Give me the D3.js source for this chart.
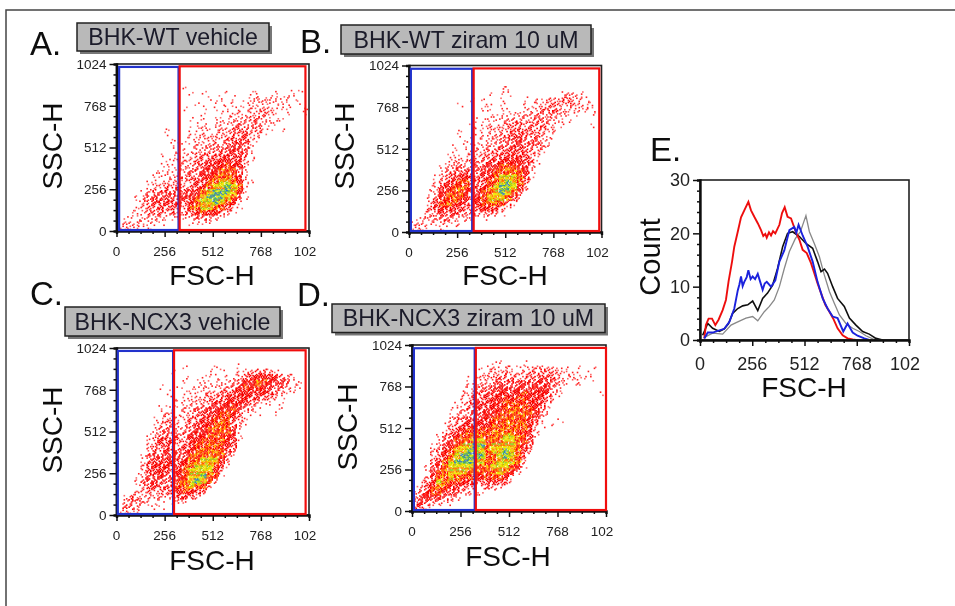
<!DOCTYPE html>
<html>
<head>
<meta charset="utf-8">
<script src="https://cdn.jsdelivr.net/npm/d3@7"></script>
<style>
  html, body { margin: 0; padding: 0; background: #fff; }
  svg { display: block; }
  text { font-family: "Liberation Sans", Arial, sans-serif; }
</style>
</head>
<body>
<svg id="viz" width="955" height="606"></svg>
<script>
/* -----------------------------------------------------------
   DATA — dot plots are kept as density grids read by eye,
   32 x 32 cells over 0-1024, top row first. 0 = empty, 9 = peak
   Single events can't be read off the picture, so dot positions
   inside a cell are a fixed stipple, not measured events.
----------------------------------------------------------- */
const densityA = [
  "00000000000000000000000000000000","00000000000000000000000000000000","00000000000000000000000000000000","00000000000000000000000000000000",
  "00000000000100000000000000000000","00000000000010100010001100100110","00000000000000010101001212112100","00000000000001001101012121211010",
  "00000000000100101011112222111001","00000000000000100111212232101001","00000000000010101112223321110000","00000000000001101212322321100000",
  "00000000100011211223332311010000","00000000100011212223342210000000","00000000010112122234342100000000","00000000011012223234431000000000",
  "00000000010112223344431000000000","00000001011213333444431000000000","00000000112223344554421000000000","00000001112223445565520000000000",
  "00000011112233455766310000000000","00000011213233556776410000000000","00000111222234467887521000000000","00000122333234578898710000000000",
  "00001233433445789998510000000000","00012343434456899987310000000000","00012344444357889875100000000000","00012334343367887641100000000000",
  "00112333232335655321000000000000","01111222111123322100000000000000","02221211000011110000000000000000","12211100000000000000000000000000"
];
const densityB = [
  "00000000000000000000000000000000","00000000000000000000000000000000","00000000000000000000000000000000","00000000000000000000000000000000",
  "00000000000000011000000000000000","00000000000001011000000001221000","00000000001010010001011223322100","00000000100011010001122332322110",
  "00000000000011011002123332212210","00000000000001111122232322110010","00000000000111122322333221100000","00000000001012123332333211000010",
  "00000000100112223343332210000000","00000000101112233443332100000000","00000000010112233443332100000000","00000001011122233443332100000000",
  "00000001011223334443321000000000","00000011112233344544210000000000","00000012223234455554310000000000","00000123323344567654200000000000",
  "00000133343345667765100000000000","00001234554345788874100000000000","00001345664346789873000000000000","00012456764457899852000000000000",
  "00012566753467898630000000000000","00013567653568887410000000000000","00024676543567763100000000000000","00034554433455421000000000000000",
  "00123434323223210000000000000000","01222332121010000000000000000000","12211211100000000000000000000000","12100100000000000000000000000000"
];
const densityC = [
  "00000000000000000000000000000000","00000000000000000000000000000000","00000000000000000000000000000000","00000000000100001000100000000000",
  "00000000010000010100122332100000","00000000000100111011234555432100","00000000000101111122355765443110","00000001001011211223465654332110",
  "00000000100111222334554554321100","00000000010112233354554433210000","00000000011122234455543211010000","00000001111223344556432100010000",
  "00000001211223445665311100100000","00000011221233456664310000000000","00000012321234556763210000000000","00000013322234567764100000000000",
  "00000123332345566664100000000000","00000134443355666754100000000000","00000234432356677654000000000000","00000233433456777643000000000000",
  "00001343443467777731000000000000","00001344544577888520000000000000","00002455544678887410000000000000","00002445435788885200000000000000",
  "00012345335688976100000000000000","00013443346789862000000000000000","00012443346787620000000000000000","00022323335654300000000000000000",
  "01322222224432000000000000000000","02332111012100000000000000000000","03320111000000000000000000000000","12110000000000000000000000000000"
];
const densityD = [
  "00000000000000000000000000000000","00000000000000000000000000000000","00000000000000000000000000000000","00000000000001100010000000000000",
  "00000000000112121112232211010010","00000000001122232223333322110100","00000000011223333233344321211100","00000000011223433444444321020000",
  "00000000112334544544554210000000","00000000223344554565554210000001","00000000123345565665543100000000","00000001234445566665541000000000",
  "00000011234445567766531000000000","00000012233455667776521000000000","00000023344456677665310010000000","00000123455557677775210100000000",
  "00000134566667777664200000000000","00001345677767788764100000000000","00001346778867788764000000000000","00012457889978888753000000000000",
  "00023568899878898742000000000000","00023578999977898730000000000000","00034689998877888720000000000000","00135788887778886510000000000000",
  "00146788877667875200000000000000","00247787665566651000000000000000","01358766554344431000000000000000","12467654321132100000000000000000",
  "13566443221100000000000000000000","24544322000000000000000000000000","34322110000000000000000000000000","33100000000000000000000000000000"
];

// gates in axis units: [x0, x1, y0, y1]
const gatesA = { blue: [14, 330, 6, 1006], red: [336, 1005, 6, 1010] };
const gatesB = { blue: [10, 336, 6, 1004], red: [344, 1012, 6, 1006] };
const gatesC = { blue: [7, 301, 6, 1006], red: [306, 1006, 6, 1010] };
const gatesD = { blue: [10, 331, 6, 1004], red: [337, 1024, 6, 1006] };

const sscTicks = [0, 256, 512, 768, 1024];
const fscTicks = [0, 256, 512, 768, 1024];
const fscLabels = ["0", "256", "512", "768", "102"];
const countTicks = [0, 10, 20, 30];

// histogram traces, [FSC-H, Count]
const histRed = [[21,0.3],[29,2.8],[42,4],[59,4],[75,2.8],[91,3.8],[111,5.6],[127,7.5],[140,11],[157,14.7],[168,17.5],[185,20.3],[201,23],[217,24.3],[237,25.9],[250,24.3],[266,23.1],[283,21.9],[299,20.6],[310,19.5],[320,19.9],[327,19.2],[338,20.2],[348,19.6],[358,20.4],[369,20],[389,21.6],[402,23.8],[415,24.9],[429,23.1],[446,22.8],[457,21.6],[470,20.2],[487,18.8],[503,16.9],[523,16.3],[544,14.4],[560,12.5],[576,10.6],[593,8.8],[614,6.6],[634,5.3],[653,4],[674,2.2],[699,0.9],[723,0.3],[748,0.1],[764,0]];
const histBlue = [[21,0.3],[38,1.4],[62,1.4],[87,1.7],[119,2.1],[144,3.4],[168,5.9],[185,9.3],[193,10.4],[201,11.9],[209,10.1],[217,10.9],[229,11.8],[237,13.1],[248,11.4],[258,11.9],[270,11.4],[283,12.4],[295,10.9],[307,9.4],[317,10.6],[327,10.9],[348,10],[369,11.2],[389,14.7],[413,16.8],[438,20.6],[462,21.2],[472,20.1],[483,21.6],[503,19.6],[527,17.5],[552,14.7],[576,10.9],[601,7.8],[625,5.9],[650,4.4],[674,4.1],[702,1.6],[723,3.1],[748,1.4],[772,0.8],[805,0.3],[829,0]];
const histBlack = [[13,0.9],[38,3.1],[62,2.2],[95,1.6],[119,2.1],[140,3.1],[160,5],[185,5.9],[209,6.4],[234,6.6],[258,7.3],[283,5.5],[307,7.8],[331,8.8],[356,10.3],[380,13.4],[405,17.5],[429,20],[454,20.3],[487,19.4],[519,18.1],[552,17.2],[576,14.7],[593,12.8],[610,13.3],[625,12.5],[650,10],[674,7.8],[707,6.3],[732,4.1],[764,2.8],[797,1.6],[829,1.1],[862,0.3],[895,0]];
const histGray = [[21,0.5],[62,1.3],[111,1.1],[152,2.8],[185,3.4],[225,4.1],[258,4.4],[283,3.6],[315,5.3],[340,6.3],[364,7.5],[389,10],[413,13.4],[438,16.6],[467,19],[492,20.3],[508,22.1],[519,23.3],[536,20.3],[560,18.1],[585,15.6],[609,12.2],[634,9.1],[658,6.9],[683,4.7],[715,3.1],[748,2.2],[781,1.6],[813,0.8],[846,0.2],[870,0]];

/* -----------------------------------------------------------
   LAYOUT
----------------------------------------------------------- */
const panels = [
  { letter: "A.", lx: 30, ly: 55, title: "BHK-WT vehicle", box: [77, 23, 192, 28], grid: densityA, gates: gatesA,
    plot: [116.5, 64, 192.5, 167], fsc: [212, 285], ssc: [62, 146] },
  { letter: "B.", lx: 300, ly: 53, title: "BHK-WT ziram 10 uM", box: [341, 25, 250, 29], grid: densityB, gates: gatesB,
    plot: [409, 65.5, 192.5, 166.5], fsc: [505, 285], ssc: [354, 146] },
  { letter: "C.", lx: 30, ly: 305, title: "BHK-NCX3 vehicle", box: [65, 307, 215, 29], grid: densityC, gates: gatesC,
    plot: [116.5, 348, 192.5, 167], fsc: [212, 570], ssc: [62, 430] },
  { letter: "D.", lx: 297, ly: 306, title: "BHK-NCX3 ziram 10 uM", box: [332, 304, 273, 28.5], grid: densityD, gates: gatesD,
    plot: [412, 345, 194, 166], fsc: [508, 566], ssc: [357, 427] }
];

const svg = d3.select("#viz");
const defs = svg.append("defs");
defs.append("filter").attr("id", "soft")
  .attr("filterUnits", "userSpaceOnUse")
  .attr("x", 0).attr("y", 0).attr("width", 955).attr("height", 606)
  .append("feGaussianBlur").attr("stdDeviation", 0.5);

const root = svg.append("g").attr("filter", "url(#soft)");
root.append("rect").attr("width", 955).attr("height", 606).attr("fill", "#fff");

// picture frame, top and left only
root.append("path").attr("d", "M6,606V10H955").attr("fill", "none")
  .attr("stroke", "#444").attr("stroke-width", 1.5);

/* -----------------------------------------------------------
   DOT COLOURS + STIPPLE
   each grid cell shows its density as dots on a fixed sub-lattice
----------------------------------------------------------- */
const dotsPerLevel = [0, 2, 4, 6, 9, 12, 14, 16, 18, 20];
const levelMix = {
  1: ["#f66", "#f22"],
  2: ["#f22", "#f55"],
  3: ["#f00", "#f33"],
  4: ["#f00", "#e00", "#f22"],
  5: ["#f00", "#e00", "#f10"],
  6: ["#f00", "#f40", "#f00", "#f80"],
  7: ["#f60", "#f20", "#fc0", "#f00"],
  8: ["#ee0", "#f90", "#9c2", "#ed0", "#f60"],
  9: ["#5b5", "#ce0", "#38a", "#9c2", "#ee0", "#37c"]
};
const subLattice = [12, 3, 21, 8, 17, 0, 14, 23, 6, 10, 19, 2, 24, 5, 16, 9, 1, 20, 13, 4, 22, 7, 18, 11, 15];

function drawPanel(p) {
  const [px, py, pw, ph] = p.plot;
  const x = d3.scaleLinear().domain([0, 1024]).range([px, px + pw]);
  const y = d3.scaleLinear().domain([0, 1024]).range([py + ph, py]);
  const g = root.append("g");

  // title box
  g.append("rect").attr("x", p.box[0] + 3).attr("y", p.box[1] + 3)
    .attr("width", p.box[2]).attr("height", p.box[3]).attr("fill", "#777");
  g.append("rect").attr("x", p.box[0]).attr("y", p.box[1])
    .attr("width", p.box[2]).attr("height", p.box[3])
    .attr("fill", "#b9b9b9").attr("stroke", "#222").attr("stroke-width", 1.5);
  g.append("text").attr("x", p.box[0] + p.box[2] / 2).attr("y", p.box[1] + p.box[3] / 2 + 8)
    .attr("text-anchor", "middle").attr("font-size", 23.2).attr("fill", "#1a1a2a").text(p.title);

  g.append("text").attr("x", p.lx).attr("y", p.ly).attr("font-size", 33).attr("fill", "#111").text(p.letter);

  // dots
  const cells = [];
  p.grid.forEach((row, r) => {
    row.split("").forEach((ch, c) => {
      const level = +ch;
      for (let i = 0; i < dotsPerLevel[level]; i++) {
        const slot = subLattice[(i + r * 7 + c * 11) % 25];
        cells.push({ c: c + ((slot % 5) + 0.5) / 5, r: r + (Math.floor(slot / 5) + 0.5) / 5, level, i: i + r + c });
      }
    });
  });
  g.append("g").selectAll("rect").data(cells).enter().append("rect")
    .attr("x", (d) => x(d.c * 32) - 0.8)
    .attr("y", (d) => y(1024 - d.r * 32) - 0.8)
    .attr("width", 1.6).attr("height", 1.6)
    .attr("fill", (d) => levelMix[d.level][d.i % levelMix[d.level].length]);

  drawAxes(g, x, y, d3.range(0, 1025, 64), d3.range(0, 1025, 64), fscTicks, sscTicks, 13.5);

  // gates
  ["blue", "red"].forEach((k) => {
    const b = p.gates[k];
    g.append("rect").attr("x", x(b[0])).attr("y", y(b[3]))
      .attr("width", x(b[1]) - x(b[0])).attr("height", y(b[2]) - y(b[3]))
      .attr("fill", "none").attr("stroke", k === "blue" ? "#2233cc" : "#f01010").attr("stroke-width", 2.2);
  });

  g.append("text").attr("x", p.fsc[0]).attr("y", p.fsc[1]).attr("text-anchor", "middle")
    .attr("font-size", 28).attr("fill", "#111").text("FSC-H");
  g.append("text").attr("transform", `translate(${p.ssc[0]},${p.ssc[1]}) rotate(-90)`).attr("text-anchor", "middle")
    .attr("font-size", 28).attr("fill", "#111").text("SSC-H");
}

/* -----------------------------------------------------------
   AXES — major ticks carry labels, the rest are half length
----------------------------------------------------------- */
function drawAxes(g, x, y, xAll, yAll, xMajor, yMajor, fontSize) {
  const [x0, x1] = x.range();
  const [y0, y1] = y.range();
  g.append("rect").attr("x", x0).attr("y", y1).attr("width", x1 - x0).attr("height", y0 - y1)
    .attr("fill", "none").attr("stroke", "#222").attr("stroke-width", 1.6);

  const xAxis = g.append("g").attr("transform", `translate(0,${y0})`)
    .call(d3.axisBottom(x).tickValues(xAll).tickSizeOuter(0).tickSize(3).tickFormat(""));
  const yAxis = g.append("g").attr("transform", `translate(${x0},0)`)
    .call(d3.axisLeft(y).tickValues(yAll).tickSizeOuter(0).tickSize(3).tickFormat(""));

  [xAxis, yAxis].forEach((a) => {
    a.select(".domain").attr("stroke", "#111").attr("stroke-width", 2.4);
    a.selectAll(".tick line").attr("stroke", "#111").attr("stroke-width", 1.5);
    a.selectAll("text").remove();
  });
  xAxis.selectAll(".tick line").filter((d) => xMajor.includes(d)).attr("y2", 6);
  yAxis.selectAll(".tick line").filter((d) => yMajor.includes(d)).attr("x2", -7);

  xMajor.forEach((v, i) => {
    g.append("text").attr("x", x(v) - (i === xMajor.length - 1 ? 4 : 0)).attr("y", y0 + fontSize + 11.5)
      .attr("text-anchor", "middle").attr("font-size", fontSize).attr("fill", "#222").text(fscLabels[i]);
  });
  yMajor.forEach((v) => {
    g.append("text").attr("x", x0 - 10).attr("y", y(v) + fontSize * 0.36)
      .attr("text-anchor", "end").attr("font-size", fontSize).attr("fill", "#222").text(String(v));
  });
}

panels.forEach(drawPanel);

/* -----------------------------------------------------------
   HISTOGRAM OVERLAY (E)
----------------------------------------------------------- */
const histG = root.append("g");
const hx = d3.scaleLinear().domain([0, 1024]).range([700, 909]);
const hy = d3.scaleLinear().domain([0, 30]).range([340, 180]);
const histLine = d3.line().x((d) => hx(d[0])).y((d) => hy(d[1]));

histG.append("text").attr("x", 650).attr("y", 161).attr("font-size", 33).attr("fill", "#111").text("E.");

[[histGray, "#888", 1.3], [histBlack, "#111", 1.6], [histRed, "#ee1111", 1.9], [histBlue, "#1a22dd", 1.9]].forEach(([d, col, w]) => {
  histG.append("path").datum(d).attr("d", histLine).attr("fill", "none").attr("stroke", col).attr("stroke-width", w);
});

drawAxes(histG, hx, hy, d3.range(0, 1025, 64), d3.range(0, 31, 2), fscTicks, countTicks, 18);

histG.append("text").attr("x", 804).attr("y", 397).attr("text-anchor", "middle")
  .attr("font-size", 28).attr("fill", "#111").text("FSC-H");
histG.append("text").attr("transform", "translate(660,257) rotate(-90)").attr("text-anchor", "middle")
  .attr("font-size", 29).attr("fill", "#111").text("Count");
</script>
</body>
</html>
